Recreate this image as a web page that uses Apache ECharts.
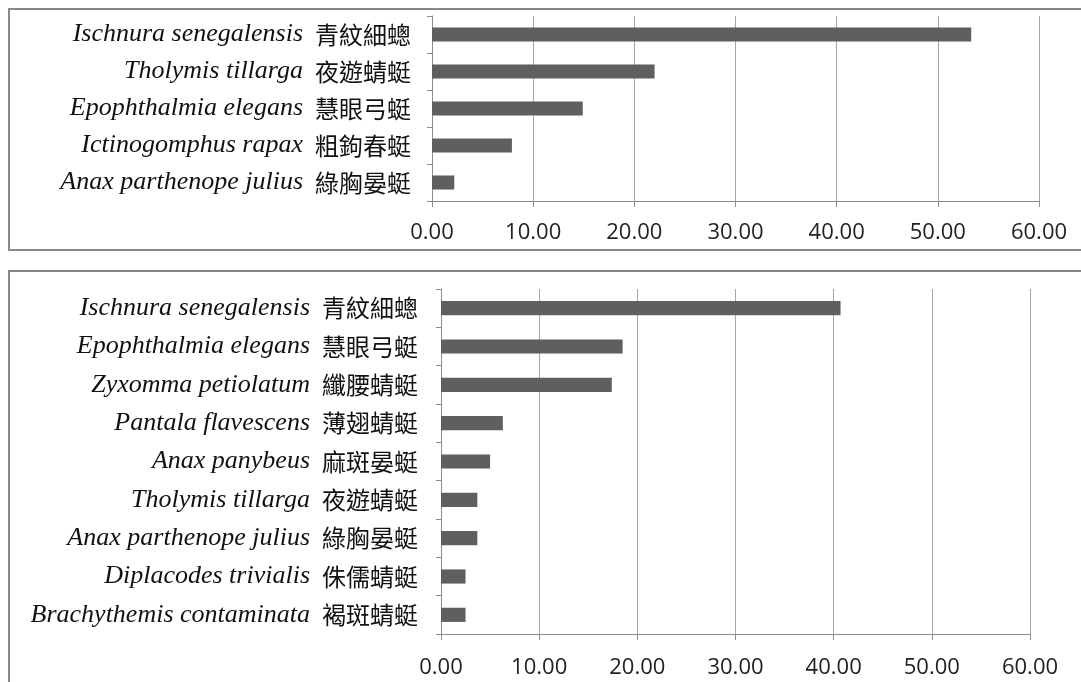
<!DOCTYPE html>
<html>
<head>
<meta charset="utf-8">
<script src="https://cdn.jsdelivr.net/npm/echarts@6/dist/echarts.min.js"></script>
<style>
html,body{margin:0;padding:0;background:#fff;}
#c{width:1081px;height:682px;}
</style>
</head>
<body>
<div id="c"></div>
<script>
// Top chart
const topCategories = [
  "Ischnura senegalensis 青紋細蟌",
  "Tholymis tillarga 夜遊蜻蜓",
  "Epophthalmia elegans 慧眼弓蜓",
  "Ictinogomphus rapax 粗鉤春蜓",
  "Anax parthenope julius 綠胸晏蜓"
];
const topValues = [53.3, 22.0, 14.9, 7.9, 2.2];

// Bottom chart
const bottomCategories = [
  "Ischnura senegalensis 青紋細蟌",
  "Epophthalmia elegans 慧眼弓蜓",
  "Zyxomma petiolatum 纖腰蜻蜓",
  "Pantala flavescens 薄翅蜻蜓",
  "Anax panybeus 麻斑晏蜓",
  "Tholymis tillarga 夜遊蜻蜓",
  "Anax parthenope julius 綠胸晏蜓",
  "Diplacodes trivialis 侏儒蜻蜓",
  "Brachythemis contaminata 褐斑蜻蜓"
];
const bottomValues = [40.7, 18.5, 17.4, 6.3, 5.0, 3.7, 3.7, 2.5, 2.5];

const xTickMin = 0, xTickMax = 60, xTickStep = 10;

const chart = echarts.init(document.getElementById('c'), null, {renderer: 'canvas'});

function catLabel(v) {
  const i = v.lastIndexOf(' ');
  return '{a|' + v.slice(0, i) + '}{b|' + v.slice(i + 1) + '}';
}
const rich = {
  a: {fontFamily: 'Liberation Serif', fontStyle: 'italic', fontSize: 26, color: '#111'},
  b: {fontFamily: 'Noto Sans CJK TC', fontSize: 24, color: '#111', padding: [0, 0, 0, 12]}
};

function yAxis(gi, cats, margin) {
  return {
    type: 'category', gridIndex: gi, data: cats, inverse: true,
    axisLine: {show: true, lineStyle: {color: '#8c8c8c', width: 1}},
    axisTick: {show: true, length: 5, lineStyle: {color: '#8c8c8c'}},
    axisLabel: {margin: margin, formatter: catLabel, rich: rich}
  };
}
function xAxis(gi, margin) {
  return {
    type: 'value', gridIndex: gi, min: xTickMin, max: xTickMax, interval: xTickStep,
    axisLine: {show: true, lineStyle: {color: '#8c8c8c', width: 1}},
    axisTick: {show: true, length: 6, lineStyle: {color: '#8c8c8c'}},
    splitLine: {show: true, lineStyle: {color: '#a6a6a6', width: 1}},
    axisLabel: {margin: margin, fontFamily: 'Open Sans', fontSize: 22, color: '#222',
      formatter: v => v.toFixed(2)}
  };
}

chart.setOption({
  animation: false,
  backgroundColor: '#fff',
  graphic: [
    {type: 'rect', shape: {x: 9, y: 9, width: 1100, height: 241},
     style: {fill: 'none', stroke: '#898989', lineWidth: 2}},
    {type: 'rect', shape: {x: 9, y: 271, width: 1100, height: 440},
     style: {fill: 'none', stroke: '#898989', lineWidth: 2}}
  ],
  grid: [
    {left: 432, right: 42, top: 16, height: 185},
    {left: 441, right: 51, top: 289, height: 345}
  ],
  xAxis: [xAxis(0, 21), xAxis(1, 23)],
  yAxis: [yAxis(0, topCategories, 21), yAxis(1, bottomCategories, 23)],
  series: [
    {type: 'bar', xAxisIndex: 0, yAxisIndex: 0, data: topValues, barWidth: '38%',
     itemStyle: {color: '#5f5f5f'}},
    {type: 'bar', xAxisIndex: 1, yAxisIndex: 1, data: bottomValues, barWidth: '37%',
     itemStyle: {color: '#5f5f5f'}}
  ]
});
</script>
</body>
</html>
